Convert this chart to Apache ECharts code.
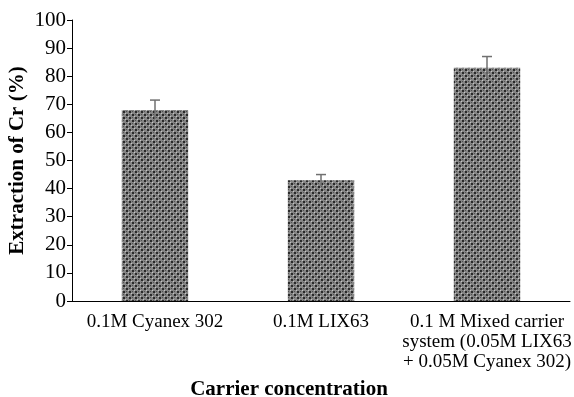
<!DOCTYPE html>
<html>
<head>
<meta charset="utf-8">
<script src="https://cdn.jsdelivr.net/npm/echarts@6/dist/echarts.min.js"></script>
<style>
html,body{margin:0;padding:0;background:#fff;}
#chart{width:574px;height:397px;}
</style>
</head>
<body>
<div id="chart"></div>
<script>
const categories = ['0.1M Cyanex 302', '0.1M LIX63', '0.1 M Mixed carrier\nsystem (0.05M LIX63\n+ 0.05M Cyanex 302)'];
const extraction = [68, 43, 83];
const errors = [3.5, 2, 4];
const yTicks = [0, 10, 20, 30, 40, 50, 60, 70, 80, 90, 100];

// checkered fill for the bars
function makePattern() {
  const c = document.createElement('canvas');
  c.width = 6; c.height = 6;
  const g = c.getContext('2d');
  g.fillStyle = '#858585';
  g.fillRect(0, 0, 6, 6);
  g.fillStyle = '#2a2a2a';
  g.fillRect(0, 0, 2, 2);
  g.fillRect(3, 3, 2, 2);
  g.fillStyle = '#c4c4c4';
  g.fillRect(2, 2, 1, 1);
  g.fillRect(5, 5, 1, 1);
  g.fillStyle = '#505050';
  g.fillRect(0, 3, 1, 1);
  g.fillRect(3, 0, 1, 1);
  return c;
}

const font = '"Liberation Serif", "Times New Roman", serif';
const chart = echarts.init(document.getElementById('chart'));
chart.setOption({
  animation: false,
  grid: { left: 72, right: 4, top: 20, bottom: 96, containLabel: false, outerBoundsMode: 'none' },
  xAxis: {
    type: 'category',
    data: categories,
    name: 'Carrier concentration',
    nameLocation: 'middle',
    nameGap: 78,
    nameMoveOverlap: false,
    nameTextStyle: { fontFamily: font, fontSize: 21, fontWeight: 'bold', color: '#000', padding: [0, 64, 0, 0] },
    axisLine: { lineStyle: { color: '#000', width: 1 } },
    axisTick: { alignWithLabel: true, length: 4, lineStyle: { color: '#000' } },
    axisLabel: { interval: 0, fontFamily: font, fontSize: 19, color: '#000', lineHeight: 20, margin: 11 }
  },
  yAxis: {
    type: 'value',
    min: 0, max: 100, interval: 10,
    name: 'Extraction of Cr (%)',
    nameLocation: 'middle',
    nameGap: 44,
    nameMoveOverlap: false,
    nameTextStyle: { fontFamily: font, fontSize: 21, fontWeight: 'bold', color: '#000' },
    axisLine: { show: true, lineStyle: { color: '#000', width: 1 } },
    axisTick: { show: true, length: 5, lineStyle: { color: '#000' } },
    splitLine: { show: false },
    axisLabel: {
      fontFamily: font, fontSize: 21, color: '#000', margin: 6,
      formatter: v => yTicks.includes(v) ? String(v) : ''
    }
  },
  series: [
    {
      type: 'bar',
      data: extraction,
      barWidth: '40%',
      itemStyle: { color: { image: makePattern(), repeat: 'repeat' } }
    },
    {
      type: 'custom',
      data: extraction.map((v, i) => [i, v, errors[i]]),
      z: 5,
      renderItem: function (params, api) {
        const x = api.value(0);
        const v = api.value(1);
        const e = api.value(2);
        const top = api.coord([x, v + e]);
        const bot = api.coord([x, v - e]);
        const half = 5;
        const style = { stroke: '#707070', lineWidth: 1.5 };
        return {
          type: 'group',
          children: [
            { type: 'line', shape: { x1: top[0], y1: top[1], x2: bot[0], y2: bot[1] }, style: style },
            { type: 'line', shape: { x1: top[0] - half, y1: top[1], x2: top[0] + half, y2: top[1] }, style: style }
          ]
        };
      }
    }
  ]
});
</script>
</body>
</html>
